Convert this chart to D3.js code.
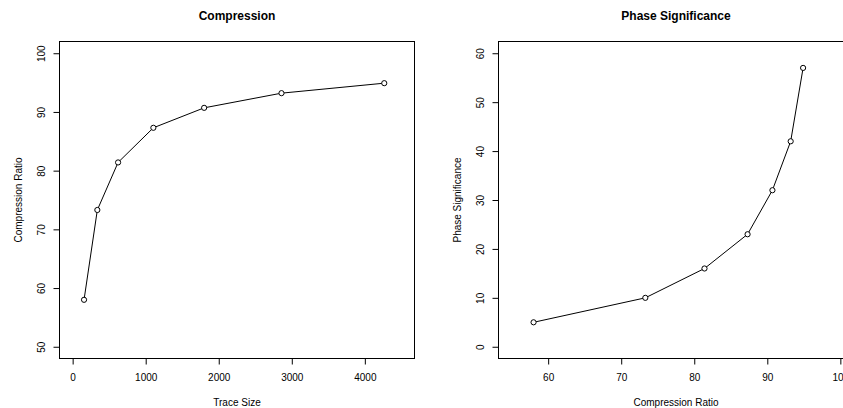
<!DOCTYPE html>
<html>
<head>
<meta charset="utf-8">
<script src="https://cdn.jsdelivr.net/npm/d3@7"></script>
<style>
  html, body { margin: 0; padding: 0; background: #fff; }
  svg { display: block; font-family: "Liberation Sans", Arial, Helvetica, sans-serif; }
</style>
</head>
<body>
<svg id="chart" width="843" height="408"></svg>
<script>
// ---- data ----
const traceSize = [156, 338, 622, 1105, 1800, 2859, 4266];
const compressionRatio = [58.0, 73.3, 81.4, 87.3, 90.7, 93.2, 94.9];
const phaseSignificance = [5, 10, 16, 23, 32, 42, 57];

const leftXTicks = [0, 1000, 2000, 3000, 4000];
const leftYTicks = [50, 60, 70, 80, 90, 100];
const rightXTicks = [60, 70, 80, 90, 100];
const rightYTicks = [0, 10, 20, 30, 40, 50, 60];

const titles = ["Compression", "Phase Significance"];
const xLabels = ["Trace Size", "Compression Ratio"];
const yLabels = ["Compression Ratio", "Phase Significance"];

const svg = d3.select("#chart");

function panel(opts) {
  const { x, y, xs, ys, xTicks, yTicks, title, xLabel, yLabel } = opts;
  const [x0, x1] = x.range();
  const [y0, y1] = y.range(); // y0 bottom, y1 top
  const g = svg.append("g");

  // x axis
  const gx = g.append("g").attr("transform", `translate(0,${y0})`)
    .call(d3.axisBottom(x).tickValues(xTicks).tickSize(6).tickFormat(d3.format("d")));
  gx.select(".domain").remove();
  gx.selectAll(".tick line").attr("stroke", "#000");
  gx.selectAll(".tick text")
    .attr("y", 19).attr("dy", "0.35em")
    .attr("fill", "#000").style("font-size", "10px")
    .style("font-family", "'Liberation Sans', Arial, sans-serif");

  // y axis
  const gy = g.append("g").attr("transform", `translate(${x0},0)`)
    .call(d3.axisLeft(y).tickValues(yTicks).tickSize(6).tickFormat(d3.format("d")));
  gy.select(".domain").remove();
  gy.selectAll(".tick line").attr("stroke", "#000");
  gy.selectAll(".tick text")
    .attr("x", null).attr("dy", "0.35em")
    .attr("transform", "translate(-18,0) rotate(-90)")
    .attr("text-anchor", "middle")
    .attr("fill", "#000").style("font-size", "10px")
    .style("font-family", "'Liberation Sans', Arial, sans-serif");

  // box
  g.append("rect")
    .attr("x", x0).attr("y", y1)
    .attr("width", x1 - x0).attr("height", y0 - y1)
    .attr("fill", "none").attr("stroke", "#000").attr("stroke-width", 1);

  // line
  const pts = xs.map((v, i) => [v, ys[i]]);
  g.append("path")
    .datum(pts)
    .attr("fill", "none").attr("stroke", "#000").attr("stroke-width", 1)
    .attr("d", d3.line().x(d => x(d[0])).y(d => y(d[1])));

  g.selectAll("circle.pt").data(pts).join("circle")
    .attr("class", "pt")
    .attr("cx", d => x(d[0])).attr("cy", d => y(d[1]))
    .attr("r", 2.6)
    .attr("fill", "#fff").attr("stroke", "#000").attr("stroke-width", 1);

  // title
  g.append("text")
    .attr("x", (x0 + x1) / 2).attr("y", 15.7).attr("dy", "0.35em")
    .attr("text-anchor", "middle")
    .style("font-size", "12px").style("font-weight", "bold")
    .text(title);

  // x label
  g.append("text")
    .attr("x", (x0 + x1) / 2).attr("y", 402.5).attr("dy", "0.35em")
    .attr("text-anchor", "middle")
    .style("font-size", "10px")
    .text(xLabel);

  // y label
  g.append("text")
    .attr("transform", `translate(${x0 - 41},${(y0 + y1) / 2}) rotate(-90)`)
    .attr("dy", "0.35em")
    .attr("text-anchor", "middle")
    .style("font-size", "10px")
    .text(yLabel);
}

// Left panel
panel({
  x: d3.scaleLinear().domain([-180, 4680]).range([59.5, 414.5]),
  y: d3.scaleLinear().domain([48, 102]).range([358.5, 41.5]),
  xs: traceSize, ys: compressionRatio,
  xTicks: leftXTicks, yTicks: leftYTicks,
  title: titles[0], xLabel: xLabels[0], yLabel: yLabels[0]
});

// Right panel
panel({
  x: d3.scaleLinear().domain([53.2, 101.8]).range([498.5, 853.5]),
  y: d3.scaleLinear().domain([-2.4, 62.4]).range([358.5, 41.5]),
  xs: compressionRatio, ys: phaseSignificance,
  xTicks: rightXTicks, yTicks: rightYTicks,
  title: titles[1], xLabel: xLabels[1], yLabel: yLabels[1]
});
</script>
</body>
</html>
